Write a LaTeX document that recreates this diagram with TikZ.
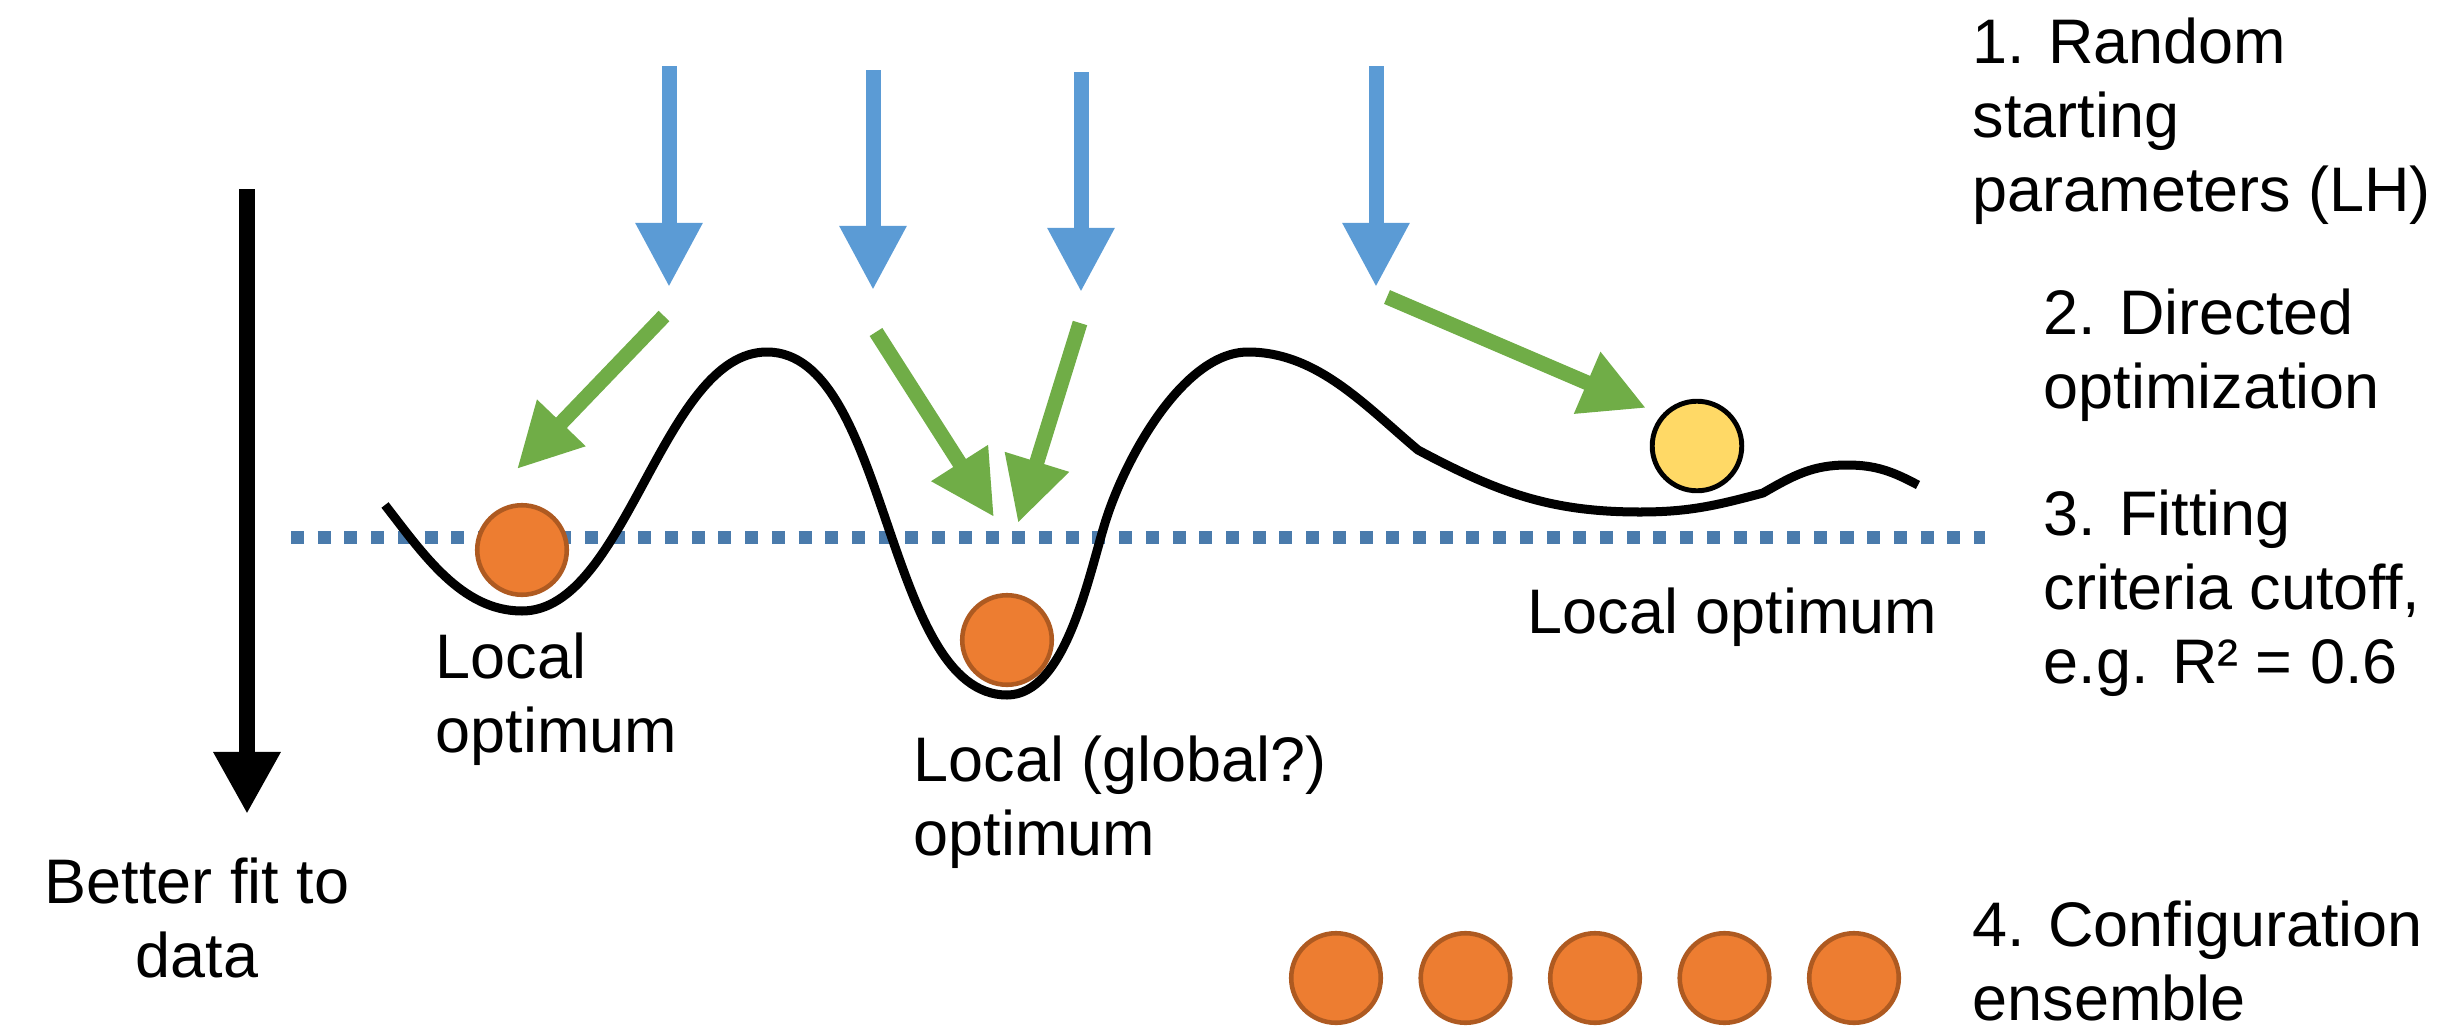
\documentclass[tikz,border=0pt]{standalone}
\usepackage{fontspec}
\setmainfont{Liberation Sans}
\usetikzlibrary{arrows.meta}
\definecolor{startblue}{RGB}{91,155,213}
\definecolor{optgreen}{RGB}{112,173,71}
\definecolor{cutblue}{RGB}{74,123,172}
\definecolor{ballorange}{RGB}{237,125,49}
\definecolor{balledge}{RGB}{174,90,33}
\definecolor{ballyellow}{RGB}{255,217,102}

\begin{document}
\begin{tikzpicture}[x=0.01cm,y=-0.01cm,
        font=\fontsize{17.9}{21}\selectfont,
        lbl/.style={inner sep=0pt,align=left,anchor=base west}, % base = last line
        ball/.style={circle,draw=balledge,fill=ballorange,line width=1.3pt,minimum size=0.895cm,inner sep=0pt},
        startarr/.style={-{Triangle[width=0.63cm,length=0.64cm]},line width=0.15cm,startblue},
        optarr/.style={-{Triangle[width=0.63cm,length=0.64cm]},line width=0.15cm,optgreen}]

    \useasboundingbox (0,0) rectangle (2444,1033);

    % fitness axis
    \coordinate (fittop) at (247,189);
    \coordinate (fitbot) at (247,814);
    \draw[-{Triangle[width=0.63cm,length=0.62cm]},line width=0.16cm] (fittop) -- (fitbot);
    \node[inner sep=0pt,align=center,anchor=base] (fitlbl) at (197,977) {Better fit to\\data};

    % cutoff line
    \coordinate (cutL) at (291,537);
    \coordinate (cutR) at (1985,537);
    \draw[cutblue,line width=0.13cm,dash pattern=on 0.13cm off 0.137cm] (cutL) -- (cutR);

    % landscape
    \draw[line width=0.09cm,line join=round,looseness=0.75]
        (385,505) to[out=-52,in=180,looseness=0.9] (522,611)
        to[out=0,in=180] (767,352)
        to[out=0,in=180] (1007,695)
        to[out=0,in=253] (1105,523)
        to[out=73,in=180] (1248,352)
        to[out=0,in=140,looseness=0.9] (1418,450)
        to[out=-28,in=180,looseness=1] (1640,512)
        to[out=0,in=195,looseness=1] (1763,493)
        to[out=30,in=180,looseness=1] (1847,465)
        to[out=0,in=152,looseness=1] (1918,485);

    % balls
    \node[ball] (ballL) at (522,550) {};
    \node[ball] (ballM) at (1007,640) {};
    \node[ball,draw=black,fill=ballyellow,line width=1.4pt] (ballY) at (1697,446) {};

    % random starts
    \coordinate (s1) at (669,66);   \coordinate (e1) at (669,287);
    \coordinate (s2) at (873,70);   \coordinate (e2) at (873,290);
    \coordinate (s3) at (1081,72);  \coordinate (e3) at (1081,292);
    \coordinate (s4) at (1376,66);  \coordinate (e4) at (1376,287);
    \foreach \i in {1,...,4}
        \draw[startarr] (s\i) -- (e\i);

    % directed optimization
    \coordinate (g1) at (664,316);  \coordinate (h1) at (517,469);
    \coordinate (g2) at (876,332);  \coordinate (h2) at (994,517);
    \coordinate (g3) at (1080,323); \coordinate (h3) at (1018,523);
    \coordinate (g4) at (1387,297); \coordinate (h4) at (1646,408);
    \foreach \i in {1,...,4}
        \draw[optarr] (g\i) -- (h\i);

    % ensemble
    \foreach \i in {0,...,4}
        \node[ball] (ens\i) at (1336+129.5*\i,978) {};

    % labels
    \node[lbl] (locL) at (435,752) {Local\\optimum};
    \node[lbl] (locM) at (913,855) {Local (global?)\\optimum};
    \node[lbl] (locY) at (1527,633) {Local optimum};

    \node[lbl] (step1) at (1972,211) {1. Random\\starting\\parameters (LH)};
    \node[lbl] (step2) at (2043,408) {2. Directed\\optimization};
    \node[lbl] (step3) at (2043,683) {3. Fitting\\criteria cutoff,\\e.g. R² = 0.6};
    \node[lbl] (step4) at (1972,1020) {4. Configuration\\ensemble};
\end{tikzpicture}
\end{document}
